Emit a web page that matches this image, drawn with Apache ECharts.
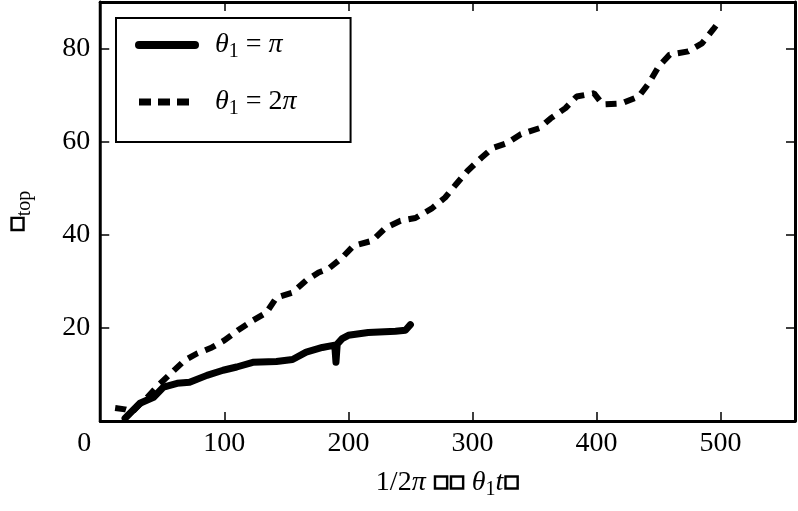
<!DOCTYPE html>
<html>
<head>
<meta charset="utf-8">
<script src="https://cdn.jsdelivr.net/npm/echarts@6/dist/echarts.min.js"></script>
<style>
    html, body { margin: 0; padding: 0; background: #fff; }
    #chart { width: 798px; height: 511px; }
</style>
</head>
<body>
<div id="chart"></div>
<script>
// theta1 = pi  (solid)
const xPi = [20, 32, 43, 51, 62, 72, 86, 99, 110, 123, 142, 155, 166, 179, 189, 190, 191, 195, 200, 216, 238, 246, 250];
const yPi = [0.6, 3.8, 5.1, 7.3, 8.1, 8.3, 9.8, 10.9, 11.6, 12.6, 12.8, 13.2, 14.8, 15.8, 16.3, 12.6, 16.5, 17.7, 18.4, 19.0, 19.3, 19.5, 20.7];

// theta1 = 2pi  (dashed)
const x2Pi = [12, 20, 26, 32, 38, 47, 58, 68, 78, 90, 100, 111, 123, 134, 142, 155, 166, 176, 184, 195, 204, 219, 230, 242, 254, 267, 278, 287, 296, 307, 316, 328, 339, 354, 363, 375, 384, 398, 405, 420, 434, 442, 450, 459, 474, 485, 494, 500];
const y2Pi = [2.8, 2.5, 2.0, 3.6, 5.1, 7.7, 10.5, 13.0, 14.5, 15.8, 17.3, 19.5, 21.6, 23.3, 26.5, 27.6, 30.2, 31.9, 32.7, 35.1, 37.6, 38.7, 41.5, 43.0, 43.6, 45.6, 48.0, 50.9, 53.7, 56.5, 58.6, 59.7, 61.6, 62.9, 65.0, 67.2, 69.7, 70.4, 68.0, 68.2, 69.7, 72.5, 76.1, 78.7, 79.4, 81.1, 84.1, 86.2];

const xTicks = [0, 100, 200, 300, 400, 500];
const yTicks = [20, 40, 60, 80];

const serif = '"Liberation Serif", "DejaVu Serif", serif';
const fs = 28;

let chart = echarts.init(document.getElementById('chart'));

const zip = (xs, ys) => xs.map((x, i) => [x, ys[i]]);

const rich = {
    i: { fontStyle: 'italic', fontFamily: serif, fontSize: fs, color: '#000' },
    s: { fontFamily: serif, fontSize: 20, color: '#000', padding: [14, 0, 0, 0] },
    n: { fontFamily: serif, fontSize: fs, color: '#000' },
    b: { fontFamily: '"DejaVu Sans", sans-serif', fontSize: 17, fontWeight: 'bold', color: '#000',
         textBorderColor: '#000', textBorderWidth: 1.5 },
    z: { fontFamily: serif, fontSize: fs, color: '#000', padding: [0, 32, 0, 0] }
};

const tick = () => ({ show: true, inside: true, length: 9, lineStyle: { color: '#000', width: 1.5 } });
const axLine = () => ({ show: true, onZero: false, lineStyle: { color: '#000', width: 3 } });

let option = {
    animation: false,
    backgroundColor: '#fff',
    grid: { left: 98, right: 1, top: 2, bottom: 90 },
    legend: {
        left: 116,
        top: 18,
        orient: 'vertical',
        itemWidth: 56,
        itemHeight: 14,
        itemGap: 26,
        padding: [13, 54, 23, 19],
        borderColor: '#000',
        borderWidth: 2,
        backgroundColor: '#fff',
        itemStyle: { opacity: 0 },
        data: [
            { name: 'pi', lineStyle: { width: 8, type: 'solid', color: '#000' } },
            { name: '2pi', lineStyle: { width: 7, type: [12, 7], color: '#000' } }
        ],
        formatter: function (name) {
            return name === 'pi'
                ? '{i|θ}{s|1}{n| = }{i|π}'
                : '{i|θ}{s|1}{n| = 2}{i|π}';
        },
        textStyle: { padding: [0, 0, 0, 15], rich: rich }
    },
    xAxis: [{
        type: 'value',
        min: 0,
        max: 560,
        interval: 100,
        position: 'bottom',
        axisLine: axLine(),
        axisTick: tick(),
        splitLine: { show: false },
        axisLabel: {
            margin: 9,
            color: '#000',
            fontFamily: serif,
            fontSize: fs,
            formatter: function (v) {
                if (v === 0) return '{z|0}';
                return xTicks.indexOf(v) >= 0 ? String(v) : '';
            },
            rich: rich
        },
        name: '1/2{i|π} {b|□□} {i|θ}{s|1}{i|t}{b|□}',
        nameLocation: 'middle',
        nameGap: 45,
        nameTextStyle: { fontFamily: serif, fontSize: fs, color: '#000', rich: rich }
    }, {
        type: 'value',
        min: 0,
        max: 560,
        interval: 100,
        position: 'top',
        axisLine: axLine(),
        axisTick: tick(),
        axisLabel: { show: false },
        splitLine: { show: false }
    }],
    yAxis: [{
        type: 'value',
        min: 0,
        max: 90,
        interval: 20,
        position: 'left',
        axisLine: axLine(),
        axisTick: tick(),
        splitLine: { show: false },
        axisLabel: {
            margin: 10,
            color: '#000',
            fontFamily: serif,
            fontSize: fs,
            formatter: function (v) {
                return yTicks.indexOf(v) >= 0 ? String(v) : '';
            }
        },
        name: '{b|□}{s|top}',
        nameLocation: 'middle',
        nameGap: 66,
        nameRotate: 90,
        nameTextStyle: { fontFamily: serif, fontSize: fs, color: '#000', rich: rich }
    }, {
        type: 'value',
        min: 0,
        max: 90,
        interval: 20,
        position: 'right',
        axisLine: axLine(),
        axisTick: tick(),
        axisLabel: { show: false },
        splitLine: { show: false }
    }],
    series: [{
        name: 'pi',
        type: 'line',
        data: zip(xPi, yPi),
        showSymbol: false,
        symbol: 'none',
        color: '#000',
        lineStyle: { color: '#000', width: 7, join: 'round', cap: 'round' }
    }, {
        name: '2pi',
        type: 'line',
        data: zip(x2Pi, y2Pi),
        showSymbol: false,
        symbol: 'none',
        color: '#000',
        lineStyle: { color: '#000', width: 6, type: [11, 8] }
    }]
};

chart.setOption(option);
</script>
</body>
</html>
